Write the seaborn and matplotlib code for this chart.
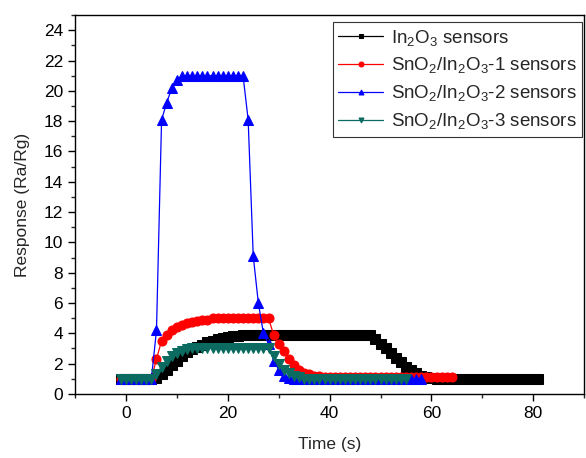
import numpy as np
import pandas as pd
import matplotlib
matplotlib.use("Agg")
import matplotlib.pyplot as plt
import seaborn as sns
from matplotlib.ticker import MultipleLocator

sns.set_style("ticks")
plt.rcParams['font.family'] = ['Liberation Sans', 'DejaVu Sans']
plt.rcParams['mathtext.default'] = 'regular'

# ---- data ----
t_in2o3 = list(range(-1, 82))
r_in2o3 = ([1.0] * 7 +
           [1.05, 1.3, 1.6, 1.9, 2.2, 2.5, 2.75, 2.95, 3.1, 3.25, 3.4, 3.5, 3.6, 3.7, 3.75, 3.8, 3.85] +
           [3.9] * 26 +
           [3.6, 3.3, 3.0, 2.7, 2.4, 2.1, 1.8, 1.55, 1.35, 1.2, 1.1, 1.05] +
           [1.0] * 21)

t_s1 = list(range(-1, 65))
r_s1 = ([1.0] * 7 +
        [2.3, 3.5, 3.9, 4.2, 4.4, 4.55, 4.65, 4.75, 4.8, 4.85, 4.9] +
        [5.0] * 12 +
        [3.9, 3.3, 2.8, 2.3, 1.9, 1.6, 1.4, 1.3, 1.2, 1.15] +
        [1.12] * 26)

t_s2 = list(range(-1, 59))
r_s2 = ([1.0] * 7 +
        [4.2, 18.1, 19.2, 20.2, 20.7] +
        [21.0] * 13 +
        [18.1, 9.1, 6.0, 4.0, 3.3, 2.2, 1.6, 1.2, 1.05] +
        [1.0] * 26)

t_s3 = list(range(-1, 56))
r_s3 = ([1.0] * 7 +
        [1.3, 1.8, 2.2, 2.5, 2.7, 2.85, 2.95] +
        [3.0] * 16 +
        [2.5, 2.0, 1.6, 1.35, 1.2, 1.1] +
        [1.0] * 21)

labels = ['In$_2$O$_3$ sensors',
          'SnO$_2$/In$_2$O$_3$-1 sensors',
          'SnO$_2$/In$_2$O$_3$-2 sensors',
          'SnO$_2$/In$_2$O$_3$-3 sensors']
colors = ['#000000', '#ff0000', '#0000ff', '#0b6b60']
markers = ['s', 'o', '^', 'v']

series = [(t_in2o3, r_in2o3), (t_s1, r_s1), (t_s2, r_s2), (t_s3, r_s3)]

fig = plt.figure(figsize=(5.86, 4.58), dpi=100)
ax = fig.add_axes([0.128, 0.140, 0.869, 0.827])

for (t, r), lab, c, m in zip(series, labels, colors, markers):
    df = pd.DataFrame({'Time': t, 'Response': r})
    sns.lineplot(data=df, x='Time', y='Response', ax=ax, color=c, marker=m,
                 markersize=6.5, markeredgecolor=c, linewidth=0.9, label=lab)

ax.set_xlim(-10, 90)
ax.set_ylim(0, 25)
ax.xaxis.set_major_locator(MultipleLocator(20))
ax.xaxis.set_minor_locator(MultipleLocator(10))
ax.yaxis.set_major_locator(MultipleLocator(2))
ax.yaxis.set_minor_locator(MultipleLocator(1))
ax.tick_params(which='major', direction='out', length=5, width=1, labelsize=12.5, colors='black')
ax.tick_params(which='minor', direction='out', length=3, width=1)
ax.set_xlabel('Time (s)', fontsize=12.5, labelpad=12)
ax.set_ylabel('Response (Ra/Rg)', fontsize=12.5, labelpad=10)
for s in ax.spines.values():
    s.set_visible(True)
    s.set_linewidth(1.0)
    s.set_color('black')

leg = ax.legend(loc='upper right', fontsize=13.5, frameon=True, fancybox=False,
                edgecolor='black', handlelength=2.4, borderpad=0.3, markerscale=0.55,
                labelspacing=0.42, handletextpad=0.4, borderaxespad=0.0,
                bbox_to_anchor=(0.996, 0.982))
leg.get_frame().set_linewidth(0.8)

fig.savefig('out.png', dpi=100)
